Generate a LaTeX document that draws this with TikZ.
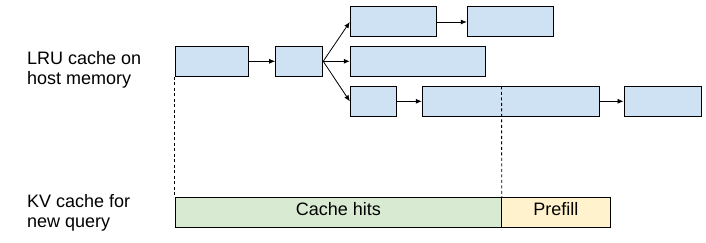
\documentclass[tikz,border=0pt]{standalone}
\usepackage{fontspec}
\setmainfont{Liberation Sans}
\usetikzlibrary{arrows.meta}
\definecolor{cblue}{HTML}{CFE2F3}
\definecolor{cgreen}{HTML}{D9EAD3}
\definecolor{cyellow}{HTML}{FFF2CC}
\begin{document}
\begin{tikzpicture}[x=1pt,y=-1pt,
  blk/.style={draw=black,line width=1pt,fill=cblue,inner sep=0pt},
  bar/.style={draw=black,line width=1pt,inner sep=0pt,font=\fontsize{18}{20}\selectfont,text height=13pt,text depth=5.6pt},
  lbl/.style={align=left,inner sep=0pt,font=\fontsize{18}{20.5}\selectfont},
  arr/.style={line width=0.8pt,-{Latex[length=6pt,width=5pt]}},
  dsh/.style={line width=0.9pt,dash pattern=on 3pt off 2.5pt}]
\useasboundingbox (0,0) rectangle (706,243);
% boxes
\node[blk,minimum width=73.4pt,minimum height=30pt] (A) at (212,61.3) {};
\node[blk,minimum width=47pt,minimum height=30pt] (B) at (299.2,61.3) {};
\node[blk,minimum width=86pt,minimum height=30pt] (C1) at (393.3,22) {};
\node[blk,minimum width=86pt,minimum height=30pt] (C2) at (510.3,22) {};
\node[blk,minimum width=135.4pt,minimum height=30pt] (D) at (418,61.3) {};
\node[blk,minimum width=46.4pt,minimum height=30pt] (E1) at (373.5,101.3) {};
\node[blk,minimum width=177pt,minimum height=30pt] (E2) at (510.8,101.3) {};
\node[blk,minimum width=77.3pt,minimum height=30pt] (E3) at (662.7,101.3) {};
% arrows
\draw[arr] (A.east) -- (B.west);
\draw[arr] (B.east) -- (C1.west);
\draw[arr] (B.east) -- (D.west);
\draw[arr] (B.east) -- (E1.west);
\draw[arr] (C1.east) -- (C2.west);
\draw[arr] (E1.east) -- (E2.west);
\draw[arr] (E2.east) -- (E3.west);
% bar
\node[bar,fill=cgreen,minimum width=326pt,minimum height=29.7pt] (hits) at (338.3,212.2) {Cache hits};
\node[bar,fill=cyellow,minimum width=109pt,minimum height=29.7pt] (pre) at (555.8,212.2) {Prefill};
% dashed
\coordinate (d2) at (501.5,86.3);
\draw[dsh] (A.south west) -- (hits.north west);
\draw[dsh] (d2) -- (hits.north east);
% labels
\node[lbl,anchor=base west] (l1) at (27,85) {LRU cache on\\host memory};
\node[lbl,anchor=base west] (l2) at (27,227.5) {KV cache for\\new query};
\end{tikzpicture}
\end{document}
